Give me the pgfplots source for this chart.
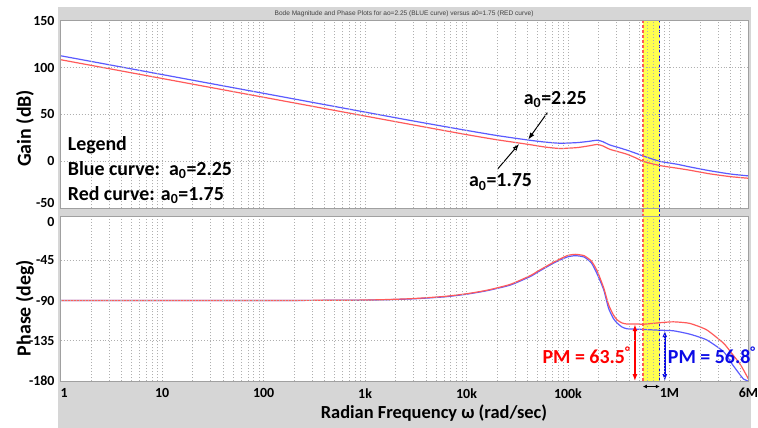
\documentclass[border=0pt]{standalone}
\usepackage{fontspec}
\setmainfont{Carlito}
\newfontfamily\arialfont{Liberation Sans}
\usepackage{pgfplots}
\usepackage{pgfplotstable}
\pgfplotsset{compat=1.18}
\usetikzlibrary{arrows.meta}

\definecolor{panelgray}{RGB}{214,214,214}
\definecolor{framegray}{RGB}{160,160,160}
\definecolor{gridgray}{RGB}{175,175,175}
\definecolor{curveblue}{RGB}{90,90,255}
\definecolor{curvered}{RGB}{255,90,90}
\definecolor{bandyellow}{RGB}{255,255,80}
\definecolor{pmred}{RGB}{255,0,0}
\definecolor{pmblue}{RGB}{10,10,230}

% gain (dB): f, a0=2.25 (blue), a0=1.75 (red)
\pgfplotstableread{
f        gb     gr
1        112.5  108.3
10       92.5   88.3
100      72.5   68.3
1000     52.5   48.3
3000     43.0   38.8
10000    33.0   28.5
20000    27.5   23.0
40000    22.8   18.2
60000    20.5   15.2
84000    19.3   13.7
124000   20.0   14.7
160000   21.3   16.5
194000   22.5   18.0
220000   21.0   16.5
258000   17.5   12.9
320000   14.5   10.0
382000   11.9   7.6
470000   8.5    3.5
550000   5.8    0.0
807000   0.0    -4.5
1180000  -3.0   -7.2
1600000  -6.0   -9.5
2500000  -10.0  -13.3
4000000  -13.5  -16.3
6000000  -15.5  -18.0
}\gaintable

% phase (deg): f, blue, red
\pgfplotstableread{
f        pb      pr
1        -90     -90
100      -90     -90
1000     -89.6   -89.5
2800     -88.3   -88.0
6000     -86.0   -85.5
10000    -83.0   -82.5
16000    -79.0   -78.5
27000    -72.8   -72.0
43000    -63.0   -62.0
50000    -58.5   -57.5
73000    -48.0   -47.0
98000    -41.5   -40.0
118000   -40.0   -38.5
144000   -41.5   -40.0
170000   -48.0   -46.0
194000   -60.5   -57.0
225000   -78.0   -76.0
251000   -98.5   -94.5
280000   -110.0  -106.0
304000   -115.0  -111.5
340000   -119.5  -115.0
382000   -121.6  -116.3
478000   -122.0  -116.2
550000   -122.3  -116.5
807000   -123.2  -114.8
1094000  -123.8  -113.8
1580000  -127.5  -115.5
2320000  -133.9  -122.7
3410000  -147.0  -137.6
4090000  -160.0  -148.7
4900000  -172.0  -160.0
5360000  -177.5  -167.3
6000000  -180.0  -177.5
}\phasetable

\begin{document}
\begin{tikzpicture}
  % page and panel
  \fill[white] (0pt,0pt) rectangle (758pt,430pt);
  \fill[panelgray] (58pt,0pt) rectangle (755pt,423pt);
  \node[font=\arialfont\fontsize{6.6}{8}\selectfont, text=black!75] at (406pt,416pt)
    {Bode Magnitude and Phase Plots for ao=2.25 (BLUE curve) versus a0=1.75 (RED curve)};

  % ---------- gain ----------
  \begin{axis}[
      at={(61pt,220.7pt)}, anchor=south west,
      scale only axis, width=691pt, height=188.6pt,
      xmode=log, xmin=1, xmax=6e6,
      ymin=-50, ymax=150,
      axis on top, clip=false,
      axis background/.style={fill=white},
      axis line style={framegray, line width=0.6pt},
      major tick length=0pt, minor tick length=0pt,
      xtick={1,10,100,1000,1e4,1e5,1e6,6e6},
      minor xtick={2,3,4,5,6,7,8,9,20,30,40,50,60,70,80,90,200,300,400,500,600,700,800,900,2000,3000,4000,5000,6000,7000,8000,9000,2e4,3e4,4e4,5e4,6e4,7e4,8e4,9e4,2e5,3e5,4e5,5e5,6e5,7e5,8e5,9e5,2e6,3e6,4e6,5e6},
      xmajorgrids, xminorgrids, ymajorgrids,
      major grid style={gridgray, line width=0.7pt, dash pattern=on 1pt off 2pt},
      minor grid style={gridgray, line width=0.7pt, dash pattern=on 1pt off 2pt},
      /pgf/number format/assume math mode=true,
      tick label style={font=\fontsize{14}{16}\selectfont\bfseries},
      yticklabel style={anchor=east, inner sep=0pt, xshift=-6pt},
      ytick={0,50,100,150},
      extra y ticks={-50},
      extra y tick style={ymajorgrids=false, yticklabel style={yshift=5.5pt}},
      xticklabels={},
    ]
    \addplot[draw=none, fill=bandyellow] coordinates
      {(547e3,-59) (803e3,-59) (803e3,150) (547e3,150)} -- cycle;
    \addplot[curveblue, line width=1.2pt, smooth, tension=0.35] table[x=f, y=gb] {\gaintable};
    \addplot[curvered, line width=1.2pt, smooth, tension=0.35] table[x=f, y=gr] {\gaintable};
    \addplot[curvered, line width=1.3pt, dash pattern=on 3pt off 2pt] coordinates {(547e3,-59) (547e3,150)};
    \addplot[pmblue, line width=1.3pt, dash pattern=on 3pt off 2pt] coordinates {(803e3,-59) (803e3,150)};
    % pointer arrows
    \draw[-{Latex[length=7pt,width=5pt]}, line width=1pt] (axis cs:62.6e3,51.9) -- (axis cs:40.5e3,23.2);
    \draw[-{Latex[length=7pt,width=5pt]}, line width=1pt] (axis cs:20.2e3,-8.3) -- (axis cs:33e3,18.6);
  \end{axis}

  % ---------- phase ----------
  \begin{axis}[
      at={(61pt,47pt)}, anchor=south west,
      scale only axis, width=691pt, height=165.7pt,
      xmode=log, xmin=1, xmax=6e6,
      ymin=-180, ymax=4,
      axis on top, clip=false,
      axis background/.style={fill=white},
      axis line style={framegray, line width=0.6pt},
      major tick length=0pt, minor tick length=0pt,
      xtick={1,10,100,1000,1e4,1e5,1e6,6e6},
      minor xtick={2,3,4,5,6,7,8,9,20,30,40,50,60,70,80,90,200,300,400,500,600,700,800,900,2000,3000,4000,5000,6000,7000,8000,9000,2e4,3e4,4e4,5e4,6e4,7e4,8e4,9e4,2e5,3e5,4e5,5e5,6e5,7e5,8e5,9e5,2e6,3e6,4e6,5e6},
      xmajorgrids, xminorgrids, ymajorgrids,
      major grid style={gridgray, line width=0.7pt, dash pattern=on 1pt off 2pt},
      minor grid style={gridgray, line width=0.7pt, dash pattern=on 1pt off 2pt},
      /pgf/number format/assume math mode=true,
      tick label style={font=\fontsize{14}{16}\selectfont\bfseries},
      yticklabel style={anchor=east, inner sep=0pt, xshift=-6pt},
      xticklabel style={anchor=north, inner sep=0pt, yshift=-7pt},
      ytick={-180,-135,-90,-45},
      extra y ticks={0},
      extra y tick style={ymajorgrids=false, yticklabel style={yshift=-2pt}},
      xticklabels={\hphantom{1}1,10,100,1k,10k,100k,1M,6M},
    ]
    \addplot[draw=none, fill=bandyellow] coordinates
      {(547e3,-180) (803e3,-180) (803e3,4) (547e3,4)} -- cycle;
    \addplot[curveblue, line width=1.2pt, smooth, tension=0.35] table[x=f, y=pb] {\phasetable};
    \addplot[curvered, line width=1.2pt, smooth, tension=0.35] table[x=f, y=pr] {\phasetable};
    \addplot[curvered, line width=1.3pt, dash pattern=on 3pt off 2pt] coordinates {(547e3,-180) (547e3,4)};
    \addplot[pmblue, line width=1.3pt, dash pattern=on 3pt off 2pt] coordinates {(803e3,-180) (803e3,4)};
    % phase margin markers
    \draw[{Latex[length=7pt,width=5pt]}-{Latex[length=7pt,width=5pt]}, pmred, line width=1.5pt]
      (axis cs:457e3,-116.5) -- (axis cs:457e3,-180);
    \draw[{Latex[length=7pt,width=5pt]}-{Latex[length=7pt,width=5pt]}, pmblue, line width=1.5pt]
      (axis cs:900e3,-123.2) -- (axis cs:900e3,-180);
    \draw[{Latex[length=4pt,width=4pt]}-{Latex[length=4pt,width=4pt]}, black, line width=1.1pt]
      (axis cs:547e3,-186) -- (axis cs:803e3,-186);
  \end{axis}

  % ---------- texts ----------
  \begin{scope}[every node/.style={font=\fontsize{20}{22}\selectfont\bfseries, inner sep=0pt}]
    \node[anchor=base west] at (68pt,278.3pt) {Legend};
    \node[anchor=base west] at (68pt,253.3pt) {Blue curve:\ \ a\textsubscript{0}=2.25};
    \node[anchor=base west] at (68pt,228.3pt) {Red curve: a\textsubscript{0}=1.75};
    \node at (558pt,330pt) {a\textsubscript{0}=2.25};
    \node at (503pt,247pt) {a\textsubscript{0}=1.75};
    \node[anchor=west, text=pmred] at (545pt,73pt) {PM = 63.5\textsuperscript{°}};
    \node[anchor=west, text=pmblue] at (671pt,73pt) {PM = 56.8\textsuperscript{°}};
    \node[rotate=90] at (25pt,301pt) {Gain (dB)};
    \node[rotate=90] at (25pt,120.5pt) {Phase (deg)};
    \node[font=\fontsize{18.5}{22}\selectfont\bfseries] at (436pt,15pt) {Radian Frequency ω (rad/sec)};
  \end{scope}
  \path[use as bounding box] (0pt,0pt) rectangle (758pt,430pt);
\end{tikzpicture}
\end{document}
